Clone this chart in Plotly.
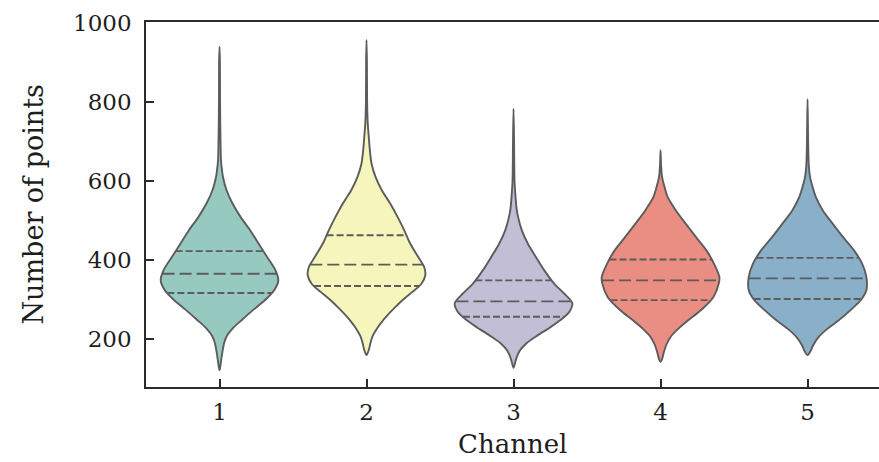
import numpy as np
import plotly.graph_objects as go

# Channel labels and box/quartile statistics (number of points)
channels = [1, 2, 3, 4, 5]
q1 = [317, 335, 257, 299, 302]
median = [366, 389, 296, 349, 354]
q3 = [423, 463, 349, 402, 406]

# Kernel density profiles per channel: support values (top to bottom)
# and relative density (1 = widest point of each violin)
ch1_vals = [940, 900, 800, 700, 650, 627, 610, 577, 544, 509, 476, 443, 408, 375, 349,
            324, 300, 280, 265, 249, 230, 207, 190, 170, 150, 135, 122]
ch1_dens = [0, .007, .009, .017, .026, .043, .06, .12, .22, .36, .52, .66, .81, .95, 1.0,
            .93, .78, .62, .5, .38, .24, .12, .078, .052, .031, .017, 0]

ch2_vals = [957, 900, 800, 746, 712, 678, 644, 610, 577, 544, 509, 476, 443, 408, 383, 362,
            340, 320, 300, 280, 260, 248, 230, 207, 190, 173, 160]
ch2_dens = [0, .007, .01, .021, .038, .057, .086, .155, .26, .4, .53, .64, .74, .88, .98, 1.0,
            .93, .78, .62, .48, .35, .28, .19, .10, .066, .038, 0]

ch3_vals = [783, 700, 600, 560, 530, 509, 476, 443, 408, 375, 341, 316, 291,
            270, 250, 230, 210, 190, 170, 150, 128]
ch3_dens = [0, .009, .017, .034, .052, .078, .14, .24, .38, .52, .69, .86, 1.0,
            .95, .81, .62, .41, .22, .10, .043, 0]

ch4_vals = [678, 640, 610, 594, 560, 526, 492, 459, 425, 391, 358, 341,
            307, 274, 248, 225, 206, 185, 165, 150, 143]
ch4_dens = [0, .009, .026, .052, .12, .26, .43, .6, .78, .91, 1.0, .99,
            .9, .69, .47, .29, .17, .095, .052, .026, 0]

ch5_vals = [807, 700, 640, 610, 594, 560, 526, 492, 459, 425, 391, 358, 324,
            300, 275, 248, 227, 206, 185, 173, 160]
ch5_dens = [0, .01, .021, .043, .069, .14, .26, .43, .6, .79, .93, 1.0, 1.0,
            .91, .74, .53, .34, .19, .095, .06, 0]

profiles = [(ch1_vals, ch1_dens), (ch2_vals, ch2_dens), (ch3_vals, ch3_dens),
            (ch4_vals, ch4_dens), (ch5_vals, ch5_dens)]

# Set3 palette, desaturated as in seaborn violins
fills = ["#96cac1", "#f6f6bc", "#c1bed6", "#ea8e83", "#8aafc8"]
edge = "#5c5c5c"
half_width = 0.4  # half of the violin width in category units

fig = go.Figure()

for i, (vals, dens) in enumerate(profiles):
    c = channels[i]
    v = np.array(vals, dtype=float)
    d = np.array(dens, dtype=float) * half_width
    # right side going down, left side coming back up
    xs = np.concatenate([c + d, (c - d)[::-1][1:]])
    ys = np.concatenate([v, v[::-1][1:]])
    fig.add_trace(go.Scatter(
        x=xs, y=ys, mode="lines", fill="toself", fillcolor=fills[i],
        line=dict(color=edge, width=1.9, shape="spline", smoothing=0.8),
        hoverinfo="skip", showlegend=False,
    ))
    # quartile lines spanning the density at each level
    asc_v = v[::-1]
    asc_d = d[::-1]
    for val, dash in ((q1[i], "7px,3px"), (median[i], "12px,5px"), (q3[i], "7px,3px")):
        w = float(np.interp(val, asc_v, asc_d))
        fig.add_trace(go.Scatter(
            x=[c - w, c + w], y=[val, val], mode="lines",
            line=dict(color=edge, width=1.9, dash=dash),
            hoverinfo="skip", showlegend=False,
        ))

font_family = "DejaVu Serif"
axis_color = "#2b2b2b"
text_color = "#1e1e1e"

fig.update_layout(
    width=879, height=462,
    margin=dict(l=146, r=0, t=22, b=75),
    plot_bgcolor="white", paper_bgcolor="white",
    font=dict(family=font_family, size=23, color=text_color),
    xaxis=dict(
        range=[0.5, 5.486], tickmode="array", tickvals=channels,
        ticktext=[str(c) for c in channels],
        showgrid=False, zeroline=False,
        showline=True, linecolor=axis_color, linewidth=1.6, mirror=True,
        ticks="inside", ticklen=8, tickwidth=1.6, tickcolor=axis_color,
        ticklabelstandoff=4,
    ),
    yaxis=dict(
        range=[79.4, 1002.5], tickmode="array", tickvals=[200, 400, 600, 800, 1000],
        ticktext=["200", "400", "600", "800", "1000"],
        showgrid=False, zeroline=False,
        showline=True, linecolor=axis_color, linewidth=1.6,
        ticks="inside", ticklen=8, tickwidth=1.6, tickcolor=axis_color,
        ticklabelstandoff=8,
    ),
    annotations=[
        dict(text="Number of points", xref="paper", yref="paper", x=0, y=0.5,
             xanchor="center", yanchor="middle", xshift=-113, textangle=-90,
             showarrow=False, font=dict(family=font_family, size=27, color=text_color)),
        dict(text="Channel", xref="paper", yref="paper", x=0.5, y=0,
             xanchor="center", yanchor="middle", yshift=-57,
             showarrow=False, font=dict(family=font_family, size=26, color=text_color)),
    ],
)

fig.write_html("out.html")
